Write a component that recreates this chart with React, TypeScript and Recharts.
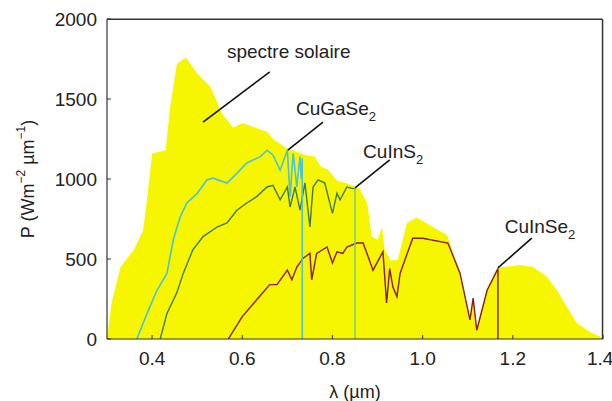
import React from "react";
import {
  ComposedChart,
  Area,
  Line,
  XAxis,
  YAxis,
  ReferenceLine,
  ReferenceDot,
} from "recharts";

// spectre solaire (AM1.5-like)
const solarX = [
  0.3, 0.31, 0.33, 0.36, 0.38, 0.39, 0.4, 0.43, 0.44, 0.455, 0.475, 0.5,
  0.53, 0.555, 0.58, 0.6, 0.63, 0.655, 0.67, 0.7, 0.72, 0.74, 0.76, 0.775,
  0.79, 0.81, 0.83, 0.86, 0.877, 0.887, 0.9, 0.91, 0.916, 0.93, 0.945, 0.965,
  0.987, 1.023, 1.054, 1.083, 1.105, 1.112, 1.12, 1.143, 1.167, 1.216, 1.245,
  1.275, 1.298, 1.32, 1.342, 1.37, 1.393, 1.4,
];
const solarP = [
  0, 225, 450, 560, 680, 900, 1160, 1180, 1450, 1720, 1760, 1660,
  1575, 1410, 1320, 1350, 1320, 1295, 1245, 1190, 1170, 1150, 1140, 1075,
  1060, 990, 975, 940, 850, 640, 620, 700, 555, 490, 495, 725,
  760, 700, 650, 420, 130, 260, 65, 310, 445, 462, 450,
  390, 305, 200, 100, 45, 15, 0,
];

// CuGaSe2
const gaseX = [
  0.366, 0.389, 0.41, 0.433, 0.447, 0.462, 0.477, 0.5, 0.522, 0.535, 0.566,
  0.588, 0.61, 0.64, 0.655, 0.668, 0.684, 0.7, 0.706, 0.713, 0.721, 0.728,
  0.731, 0.733, 0.733,
];
const gaseP = [
  0, 160, 300, 410, 620, 760, 850, 910, 995, 1005, 975,
  1035, 1100, 1140, 1180, 1150, 1055, 1180, 890, 1160, 950, 1140,
  1000, 1130, 0,
];

// CuInS2 (curve, then the cut-off drop)
const insX = [
  0.418, 0.433, 0.455, 0.469, 0.49, 0.513, 0.544, 0.566, 0.588, 0.61, 0.632,
  0.655, 0.668, 0.684, 0.7, 0.706, 0.717, 0.728, 0.739, 0.75, 0.757, 0.768,
  0.783, 0.8, 0.81, 0.817, 0.832, 0.846, 0.85,
];
const insP = [
  0, 160, 290, 410, 555, 640, 700, 725, 805, 850, 890,
  950, 960, 870, 950, 825, 950, 805, 975, 700, 950, 995,
  975, 785, 910, 870, 950, 940, 940,
];
const insDropX = [0.85, 0.85];
const insDropP = [940, 0];

// CuInSe2
const inseX = [
  0.569, 0.6, 0.632, 0.661, 0.677, 0.7, 0.71, 0.721, 0.735, 0.75, 0.754,
  0.765, 0.788, 0.8, 0.81, 0.823, 0.832, 0.854, 0.868, 0.89, 0.912, 0.92,
  0.927, 0.934, 0.943, 0.95, 0.978, 1.0, 1.056, 1.083, 1.105, 1.112, 1.12,
  1.143, 1.167, 1.167,
];
const inseP = [
  0, 140, 245, 340, 340, 430, 370, 450, 505, 535, 370,
  535, 575, 475, 545, 535, 575, 600, 600, 430, 545, 225,
  440, 325, 265, 410, 630, 630, 600, 410, 120, 255, 55,
  305, 440, 0,
];

const xTicks = [0.4, 0.6, 0.8, 1.0, 1.2, 1.4];
const yTicks = [0, 500, 1000, 1500, 2000];
const xDomain = [0.3, 1.4];
const yDomain = [0, 2000];

const FONT = "'Liberation Sans', Arial, sans-serif";
const INK = "#222";
const FRAME = { stroke: "#333", strokeWidth: 1.2 };

// merge everything into one table keyed on wavelength
const rows: Record<string, number>[] = [];
const push = (xs: number[], ys: number[], key: string) =>
  xs.forEach((x, i) => rows.push({ x, [key]: ys[i] }));
push(solarX, solarP, "solar");
push(gaseX, gaseP, "gase");
push(insX, insP, "ins");
push(insDropX, insDropP, "insDrop");
push(inseX, inseP, "inse");
rows.sort((a, b) => a.x - b.x);

// callouts: text anchor (left, baseline) and leader line, in data units
const notes = [
  { main: "spectre solaire", sub: "", x: 0.566, y: 1755, line: [0.513, 1356, 0.661, 1669] },
  { main: "CuGaSe", sub: "2", x: 0.719, y: 1400, line: [0.701, 1181, 0.779, 1356] },
  { main: "CuInS", sub: "2", x: 0.868, y: 1131, line: [0.85, 944, 0.927, 1119] },
  { main: "CuInSe", sub: "2", x: 1.182, y: 660, line: [1.167, 444, 1.242, 631] },
];

// top and right edges of the box, drawn a hair inside the domain
const edgeTop = yDomain[1] - 2;
const edgeRight = xDomain[1] - 0.001;
const frameEdges = [
  [xDomain[0], edgeTop, edgeRight, edgeTop],
  [edgeRight, yDomain[0], edgeRight, edgeTop],
];

const noteShape = (main: string, sub: string) => (p: any) => (
  <text x={p.cx} y={p.cy} fontSize={19} fontFamily={FONT} fill={INK}>
    {main}
    {sub && (
      <tspan dy={6} fontSize={13}>
        {sub}
      </tspan>
    )}
  </text>
);

const YLabel = (props: any) => {
  const { viewBox } = props;
  const cx = viewBox.x + 28;
  const cy = viewBox.y + viewBox.height / 2;
  return (
    <text
      x={cx}
      y={cy}
      transform={`rotate(-90 ${cx} ${cy})`}
      textAnchor="middle"
      dominantBaseline="central"
      fontSize={18}
      fontFamily={FONT}
      fill={INK}
    >
      P (Wm
      <tspan dy={-7} fontSize={12}>
        −2
      </tspan>
      <tspan dy={7}> µm</tspan>
      <tspan dy={-7} fontSize={12}>
        −1
      </tspan>
      <tspan dy={7}>)</tspan>
    </text>
  );
};

export default function App() {
  return (
    <div style={{ position: "absolute", left: 0, top: 0, background: "#fff" }}>
      <ComposedChart
        width={612}
        height={401}
        data={rows}
        margin={{ top: 19, right: 9, bottom: 0, left: 0 }}
      >
        <XAxis
          dataKey="x"
          type="number"
          domain={xDomain}
          ticks={xTicks}
          allowDataOverflow
          height={62}
          tickSize={-4}
          tickMargin={17}
          tickFormatter={(v: number) => v.toFixed(1)}
          tick={{ fontSize: 19, fill: INK, fontFamily: FONT }}
          axisLine={FRAME}
          tickLine={{ stroke: "#333" }}
          label={{
            value: "λ (µm)",
            position: "insideBottom",
            offset: 3,
            style: { fontSize: 18, fill: INK, fontFamily: FONT },
          }}
        />
        <YAxis
          type="number"
          domain={yDomain}
          ticks={yTicks}
          allowDataOverflow
          width={107}
          tickSize={-4}
          tickMargin={14}
          tick={{ fontSize: 19, fill: INK, fontFamily: FONT }}
          axisLine={FRAME}
          tickLine={{ stroke: "#333" }}
          label={{ content: YLabel }}
        />
        <Area
          dataKey="solar"
          type="linear"
          stroke="none"
          fill="#f6f600"
          fillOpacity={1}
          connectNulls
          isAnimationActive={false}
        />
        <Line
          dataKey="inse"
          type="linear"
          stroke="#8e1a16"
          strokeWidth={1.4}
          dot={false}
          connectNulls
          isAnimationActive={false}
        />
        <Line
          dataKey="ins"
          type="linear"
          stroke="#3f7a46"
          strokeWidth={1.4}
          dot={false}
          connectNulls
          isAnimationActive={false}
        />
        <Line
          dataKey="insDrop"
          type="linear"
          stroke="#7fcf78"
          strokeWidth={1.6}
          dot={false}
          connectNulls
          isAnimationActive={false}
        />
        <Line
          dataKey="gase"
          type="linear"
          stroke="#4cc3d6"
          strokeWidth={1.6}
          dot={false}
          connectNulls
          isAnimationActive={false}
        />
        {notes.map((n) => (
          <ReferenceLine
            key={n.main + "-l"}
            segment={[
              { x: n.line[0], y: n.line[1] },
              { x: n.line[2], y: n.line[3] },
            ]}
            stroke="#111"
            strokeWidth={1.6}
          />
        ))}
        {notes.map((n) => (
          <ReferenceDot
            key={n.main}
            x={n.x}
            y={n.y}
            r={0}
            ifOverflow="visible"
            shape={noteShape(n.main, n.sub)}
          />
        ))}
        {frameEdges.map((e, i) => (
          <ReferenceLine
            key={"edge" + i}
            segment={[
              { x: e[0], y: e[1] },
              { x: e[2], y: e[3] },
            ]}
            stroke="#333"
            strokeWidth={1.5}
          />
        ))}
      </ComposedChart>
    </div>
  );
}
